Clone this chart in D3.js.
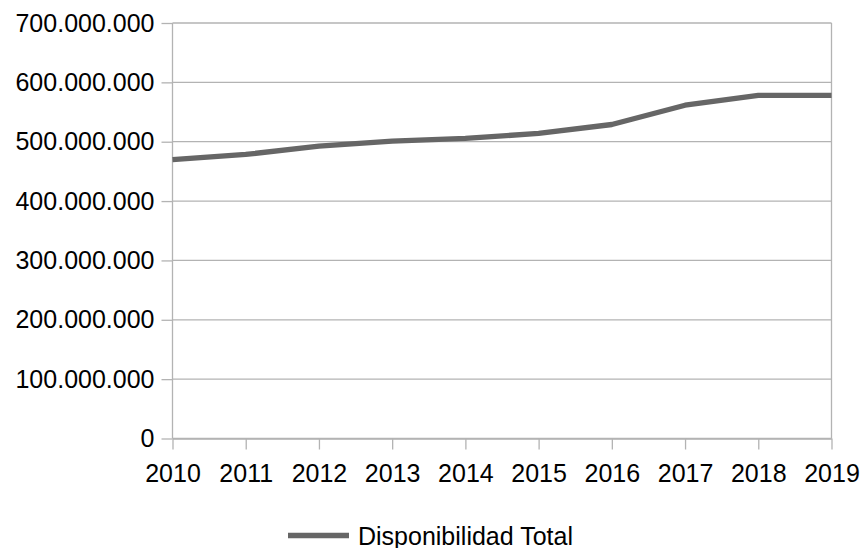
<!DOCTYPE html>
<html>
<head>
<meta charset="utf-8">
<title>Disponibilidad Total</title>
<style>
body { margin:0; background:#fff; }
svg text { font-family: "Liberation Sans", Arial, sans-serif; }
</style>
<script src="https://d3js.org/d3.v7.min.js"></script>
</head>
<body>
<div id="chart"></div>
<script>
// datos
var years = ["2010","2011","2012","2013","2014","2015","2016","2017","2018","2019"];
var disponibilidad = [470000000, 478500000, 492500000, 501000000, 505500000, 514000000, 529000000, 561500000, 578000000, 578000000];
var yTicks = [0, 100000000, 200000000, 300000000, 400000000, 500000000, 600000000, 700000000];
var seriesName = "Disponibilidad Total";

var width = 864, height = 548;
var plotLeft = 172.5, plotRight = 831.5, plotTop = 23, plotBottom = 438.5;
var fontSize = 25;
var gridColor = "#b3b3b3";
var lineColor = "#666666";

var svg = d3.select("#chart").append("svg")
    .attr("width", width)
    .attr("height", height);

var x = d3.scalePoint().domain(years).range([plotLeft, plotRight]);
var y = d3.scaleLinear().domain([0, 700000000]).range([plotBottom, plotTop]);

// formato con puntos de miles
var fmt = function(v) { return d3.format(",")(v).replace(/,/g, "."); };

// lineas de la grilla
svg.append("g").selectAll("line")
    .data(yTicks)
    .enter().append("line")
    .attr("x1", plotLeft).attr("x2", plotRight)
    .attr("y1", function(d) { return y(d); })
    .attr("y2", function(d) { return y(d); })
    .attr("stroke", gridColor)
    .attr("stroke-width", 1.3);

// borde derecho
svg.append("line")
    .attr("x1", plotRight).attr("x2", plotRight)
    .attr("y1", plotTop).attr("y2", plotBottom)
    .attr("stroke", gridColor)
    .attr("stroke-width", 1.3);

// eje y
var yAxis = svg.append("g")
    .attr("transform", "translate(" + plotLeft + ",0)")
    .call(d3.axisLeft(y).tickValues(yTicks).tickFormat(fmt).tickSize(11).tickPadding(7));

// eje x
var xAxis = svg.append("g")
    .attr("transform", "translate(0," + plotBottom + ")")
    .call(d3.axisBottom(x).tickSize(11).tickPadding(15).tickSizeOuter(0));

[yAxis, xAxis].forEach(function(ax) {
    ax.select(".domain").attr("stroke", gridColor).attr("stroke-width", 1.3);
    ax.selectAll(".tick line").attr("stroke", gridColor).attr("stroke-width", 1.3);
    ax.selectAll("text")
        .attr("fill", "#000")
        .style("font-size", fontSize + "px")
        .style("font-family", "'Liberation Sans', Arial, sans-serif");
});
yAxis.select(".domain").attr("d", "M0," + plotBottom + "V" + plotTop);

// serie
var line = d3.line()
    .x(function(d, i) { return x(years[i]); })
    .y(function(d) { return y(d); });

svg.append("path")
    .datum(disponibilidad)
    .attr("d", line)
    .attr("fill", "none")
    .attr("stroke", lineColor)
    .attr("stroke-width", 5.3)
    .attr("stroke-linejoin", "round");

// leyenda
svg.append("line")
    .attr("x1", 288).attr("x2", 349)
    .attr("y1", 535.5).attr("y2", 535.5)
    .attr("stroke", lineColor)
    .attr("stroke-width", 5.3);

svg.append("text")
    .attr("x", 358)
    .attr("y", 545)
    .attr("font-size", fontSize)
    .attr("fill", "#000")
    .text(seriesName);
</script>
</body>
</html>
